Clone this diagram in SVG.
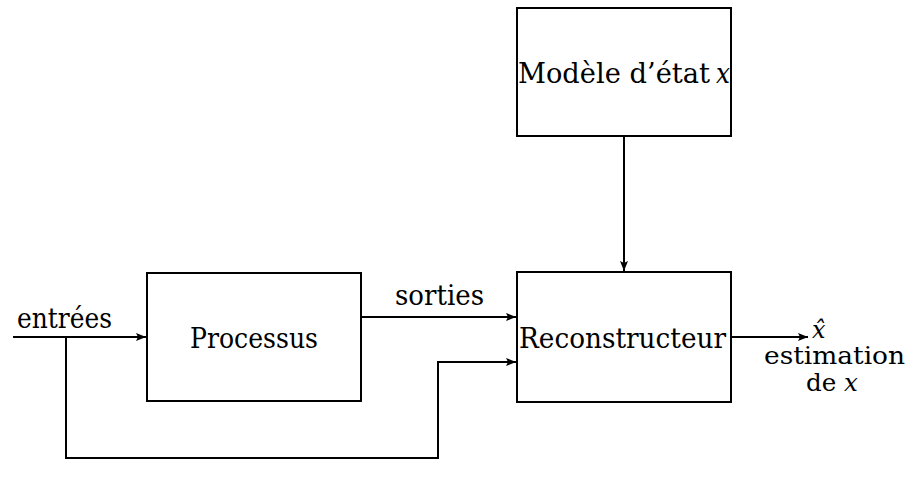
<svg xmlns="http://www.w3.org/2000/svg" width="909" height="487" viewBox="0 0 909 487">
<style>
.box{fill:#fff;stroke:#000;stroke-width:2}
.ln{fill:none;stroke:#000;stroke-width:2}
text{font-family:'DejaVu Serif','Liberation Serif',serif;font-size:27px;fill:#000}
.it{font-style:italic}
.sm{font-size:24px}
</style>
<defs>
<marker id="ar" viewBox="0 0 10 8" refX="10" refY="4" markerWidth="10" markerHeight="8" markerUnits="userSpaceOnUse" orient="auto">
<path d="M0,0 L10,4 L0,8 L2,4 Z" fill="#000"/>
</marker>
</defs>
<g id="connectors">
<path class="ln" d="M13,337 H146" marker-end="url(#ar)"/>
<path class="ln" d="M66,337 V458 H438 V362 H516" marker-end="url(#ar)"/>
<path class="ln" d="M361,317 H516" marker-end="url(#ar)"/>
<path class="ln" d="M624,136 V271" marker-end="url(#ar)"/>
<path class="ln" d="M731,337 H808" marker-end="url(#ar)"/>
</g>
<g id="processus">
<rect class="box" x="147" y="273" width="214" height="128"/>
<text x="254" y="348" text-anchor="middle" textLength="128" lengthAdjust="spacingAndGlyphs">Processus</text>
</g>
<g id="reconstructeur">
<rect class="box" x="517" y="272" width="214" height="130"/>
<text x="519" y="348" textLength="207" lengthAdjust="spacingAndGlyphs">Reconstructeur</text>
</g>
<g id="modele">
<rect class="box" x="517" y="8" width="214" height="128"/>
<text x="518" y="83" textLength="192" lengthAdjust="spacingAndGlyphs">Modèle d’état</text>
<text x="716" y="83" class="it" textLength="14" lengthAdjust="spacingAndGlyphs">x</text>
</g>
<g id="labels">
<text x="17" y="328" textLength="95" lengthAdjust="spacingAndGlyphs">entrées</text>
<text x="395" y="305" textLength="89" lengthAdjust="spacingAndGlyphs">sorties</text>
<text x="812" y="338" class="it sm">x̂</text>
<text x="764" y="364" class="sm" textLength="141" lengthAdjust="spacingAndGlyphs">estimation</text>
<text x="806" y="391" class="sm" textLength="52" lengthAdjust="spacingAndGlyphs">de <tspan class="it">x</tspan></text>
</g>
</svg>
